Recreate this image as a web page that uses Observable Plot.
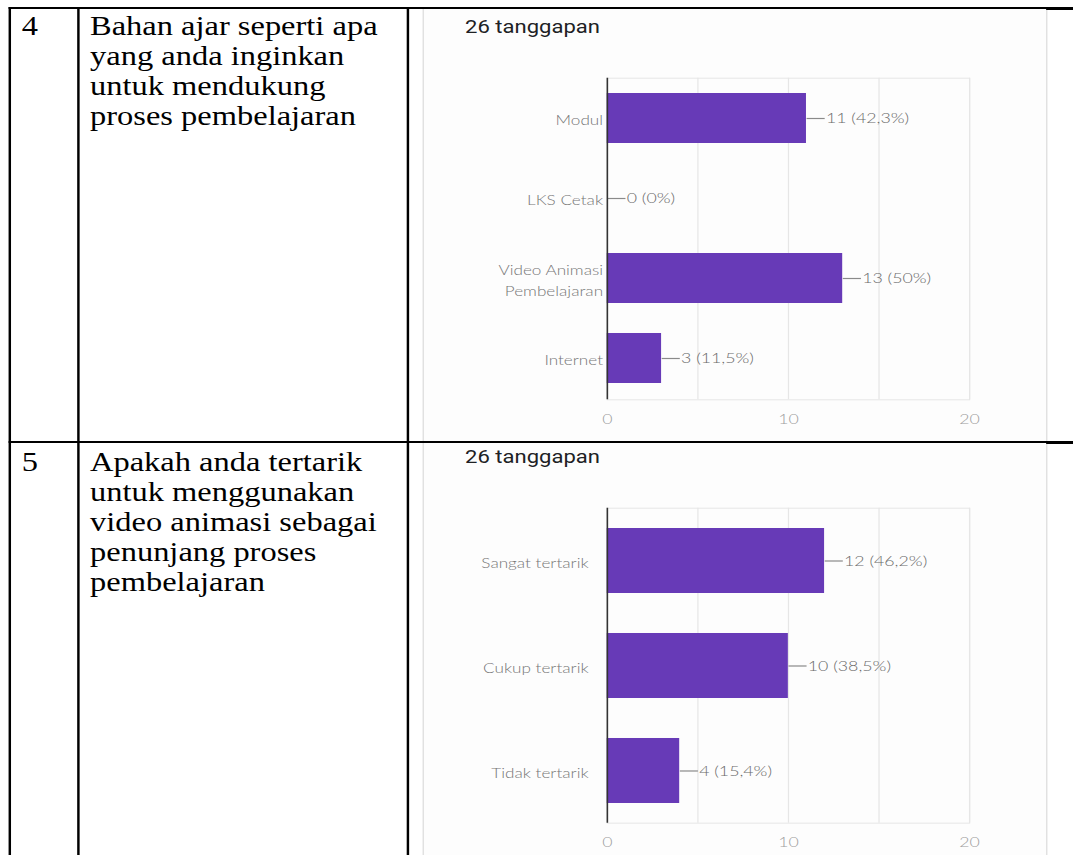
<!DOCTYPE html>
<html>
<head>
<meta charset="utf-8">
<script src="https://cdn.jsdelivr.net/npm/d3@7"></script>
<script src="https://cdn.jsdelivr.net/npm/@observablehq/plot@0.6"></script>
<style>
  html, body { margin: 0; padding: 0; background: #fff; overflow: hidden; width: 1073px; height: 855px; }
  #page { position: relative; width: 876px; height: 855px; transform: scaleX(1.225); transform-origin: 0 0; }
  .ln { position: absolute; background: #000; }
  .panel { position: absolute; background: #fdfdfd; border-left: 1.6px solid #dcdcdc; border-right: 1.6px solid #dcdcdc; box-sizing: border-box; }
  .num, .q { position: absolute; font-family: "Liberation Serif", "Times New Roman", serif; font-size: 26.5px; line-height: 30px; color: #000; white-space: nowrap; }
  .ttl { position: absolute; font-family: Roboto, sans-serif; font-size: 18px; line-height: 18px; color: #202124; white-space: nowrap; }
  .chart { position: absolute; }
</style>
</head>
<body>
<div id="page">
  <div class="panel" style="left:345.3px; top:9px; width:510px; height:432px;"></div>
  <div class="panel" style="left:345.3px; top:443px; width:510px; height:412px;"></div>

  <div class="ln" style="left:7.3px; top:7px; width:869px; height:2px;"></div>
  <div class="ln" style="left:854px; top:7px; width:22px; height:3px;"></div>
  <div class="ln" style="left:7.3px; top:441px; width:869px; height:2px;"></div>
  <div class="ln" style="left:854px; top:441px; width:22px; height:3px;"></div>
  <div class="ln" style="left:7.3px; top:7px; width:1.8px; height:848px;"></div>
  <div class="ln" style="left:62.8px; top:7px; width:1.8px; height:848px;"></div>
  <div class="ln" style="left:332.2px; top:7px; width:1.8px; height:848px;"></div>

  <div class="num" style="left:17.7px; top:10.7px;">4</div>
  <div class="q" id="q1" style="left:73.5px; top:10.7px;"></div>
  <div class="num" style="left:17.7px; top:447.2px;">5</div>
  <div class="q" id="q2" style="left:73.5px; top:447.2px;"></div>

  <div class="ttl" id="t1" style="left:379.6px; top:18.2px;"></div>
  <div class="ttl" id="t2" style="left:379.6px; top:448.2px;"></div>

  <div class="chart" id="c1" style="left:350px; top:60px;"></div>
  <div class="chart" id="c2" style="left:350px; top:490px;"></div>
</div>
<script>
// ---- data ----
const question1Lines = ["Bahan ajar seperti apa", "yang anda inginkan", "untuk mendukung", "proses pembelajaran"];
const question2Lines = ["Apakah anda tertarik", "untuk menggunakan", "video animasi sebagai", "penunjang proses", "pembelajaran"];
const responses = 26;
const responseWord = "tanggapan";

const categories1 = ["Modul", "LKS Cetak", "Video Animasi\nPembelajaran", "Internet"];
const counts1 = [11, 0, 13, 3];
const percents1 = ["42,3%", "0%", "50%", "11,5%"];

const categories2 = ["Sangat tertarik", "Cukup tertarik", "Tidak tertarik"];
const counts2 = [12, 10, 4];
const percents2 = ["46,2%", "38,5%", "15,4%"];

const xTicks = [0, 10, 20];
const gridTicks = [5, 10, 15, 20];
const xMax = 20;
const leaderLength = 1; // length of value leader line, in count units

// ---- text ----
document.getElementById("q1").innerHTML = question1Lines.join("<br>");
document.getElementById("q2").innerHTML = question2Lines.join("<br>");
document.getElementById("t1").textContent = `${responses} ${responseWord}`;
document.getElementById("t2").textContent = `${responses} ${responseWord}`;

function makeChart(categories, counts, percents, opts) {
  const data = categories.map((c, i) => ({cat: c, value: counts[i], label: `${counts[i]} (${percents[i]})`}));
  return Plot.plot({
    width: 480,
    height: opts.height,
    marginLeft: 145.3,
    marginRight: 39,
    marginTop: 17.7,
    marginBottom: 40,
    style: {fontFamily: "Lato, 'Open Sans', sans-serif", fontWeight: 300, fontSize: "14px", background: "transparent", overflow: "visible"},
    x: {domain: [0, xMax], label: null},
    y: {domain: categories, paddingInner: opts.padInner, paddingOuter: opts.padOuter, label: null},
    marks: [
      Plot.frame({stroke: "#e6e6e6"}),
      Plot.gridX(gridTicks, {stroke: "#e6e6e6", strokeOpacity: 1}),
      Plot.barX(data, {x: "value", y: "cat", fill: "#673ab7"}),
      Plot.link(data, {x1: "value", x2: d => d.value + leaderLength, y1: "cat", y2: "cat", stroke: "#8a8a8a", strokeWidth: 1.2}),
      Plot.text(data, {x: d => d.value + leaderLength, y: "cat", text: "label", textAnchor: "start", dx: 1, fill: "#6b6b6b", fontSize: 14.5}),
      Plot.ruleX([0], {stroke: "#333", strokeWidth: 1.3}),
      Plot.axisX(xTicks, {tickSize: 0, tickPadding: 13.5, fill: "#a0a0a0", fontSize: 14.5, label: null}),
      Plot.axisY({tickSize: 0, tickPadding: opts.tickPadY, fill: "#767676", fontSize: 14, lineHeight: 1.55, label: null})
    ]
  });
}

document.getElementById("c1").appendChild(makeChart(categories1, counts1, percents1, {height: 379.3, padInner: 0.373, padOuter: 0.19, tickPadY: 3.5}));
document.getElementById("c2").appendChild(makeChart(categories2, counts2, percents2, {height: 372.7, padInner: 0.385, padOuter: 0.19, tickPadY: 15.3}));
</script>
</body>
</html>
